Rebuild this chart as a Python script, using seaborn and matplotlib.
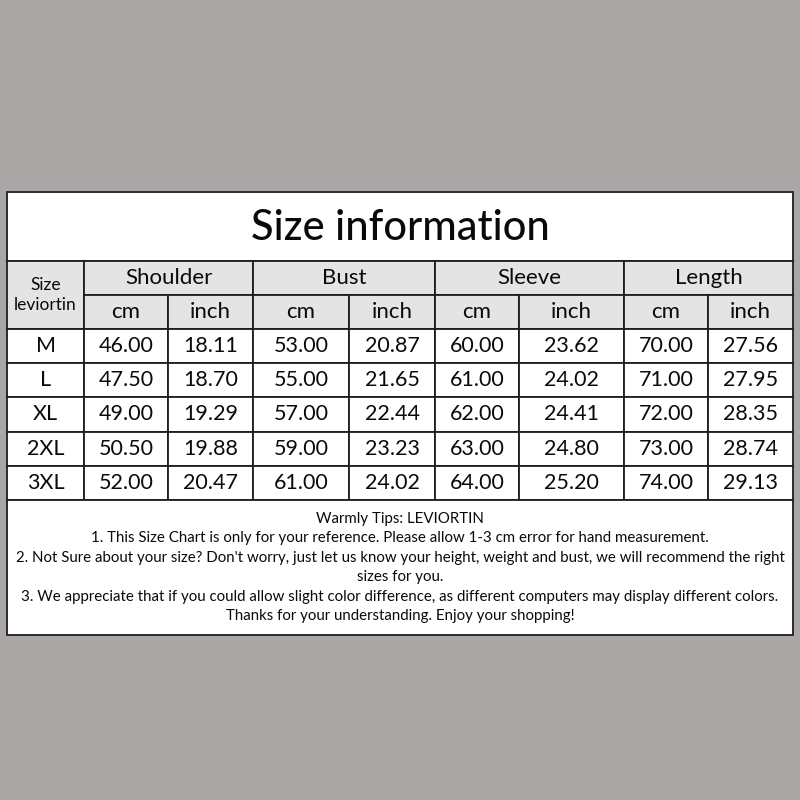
import matplotlib
matplotlib.use('Agg')
import matplotlib.pyplot as plt
import matplotlib.patches as patches
import numpy as np
import pandas as pd
import seaborn as sns

SIZES = ['M', 'L', 'XL', '2XL', '3XL']
PARTS = ['Shoulder', 'Bust', 'Sleeve', 'Length']
UNITS = ['cm', 'inch']
shoulder_cm = [46.00, 47.50, 49.00, 50.50, 52.00]
shoulder_inch = [18.11, 18.70, 19.29, 19.88, 20.47]
bust_cm = [53.00, 55.00, 57.00, 59.00, 61.00]
bust_inch = [20.87, 21.65, 22.44, 23.23, 24.02]
sleeve_cm = [60.00, 61.00, 62.00, 63.00, 64.00]
sleeve_inch = [23.62, 24.02, 24.41, 24.80, 25.20]
length_cm = [70.00, 71.00, 72.00, 73.00, 74.00]
length_inch = [27.56, 27.95, 28.35, 28.74, 29.13]
TITLE = 'Size information'
TIPS = [
    'Warmly Tips: LEVIORTIN',
    '1. This Size Chart is only for your reference. Please allow 1-3 cm error for hand measurement.',
    "2. Not Sure about your size? Don't worry, just let us know your height, weight and bust, we will recommend the right",
    'sizes for you.',
    '3. We appreciate that if you could allow slight color difference, as different computers may display different colors.',
    'Thanks for your understanding. Enjoy your shopping!',
]

df = pd.DataFrame(
    np.column_stack([shoulder_cm, shoulder_inch, bust_cm, bust_inch,
                     sleeve_cm, sleeve_inch, length_cm, length_inch]),
    index=SIZES,
    columns=pd.MultiIndex.from_product([PARTS, UNITS]))

sns.set_theme(style='white')
plt.rcParams['font.family'] = ['Lato', 'DejaVu Sans']

# layout in pixels
col_x = [7, 84, 168, 253, 349, 435, 519, 624, 708, 793]
top, title_bot, h1_bot, h2_bot = 192, 261, 295, 329
row_h = 34.2
body_bot = h2_bot + row_h * len(SIZES)
foot_bot = 635
line_c = '#1e1e1e'
head_c = '#e4e4e4'
ink = '#0a0a0a'

fig = plt.figure(figsize=(8, 8), dpi=100)
fig.patch.set_facecolor('#aaa6a6')
ax = fig.add_axes([0, 0, 1, 1])
ax.set_xlim(0, 800)
ax.set_ylim(800, 0)
ax.axis('off')

def cell(x0, y0, x1, y1, fc):
    ax.add_patch(patches.Rectangle((x0, y0), x1 - x0, y1 - y0, facecolor=fc,
                                   edgecolor=line_c, linewidth=1.3))

# title
cell(col_x[0], top, col_x[-1], title_bot, 'white')
ax.text(400, (top + title_bot) / 2 + 1, TITLE, ha='center', va='center',
        fontsize=30, color=ink, fontweight='medium')

# header
cell(col_x[0], title_bot, col_x[1], h2_bot, head_c)
ax.text((col_x[0] + col_x[1]) / 2, (title_bot + h2_bot) / 2, 'Size\nleviortin',
        ha='center', va='center', fontsize=12.5, linespacing=1.35, color=ink)
for i, part in enumerate(PARTS):
    x0, x1 = col_x[1 + 2 * i], col_x[3 + 2 * i]
    cell(x0, title_bot, x1, h1_bot, head_c)
    ax.text((x0 + x1) / 2, (title_bot + h1_bot) / 2, part, ha='center',
            va='center', fontsize=16, color=ink)
    for j, unit in enumerate(UNITS):
        a, b = col_x[1 + 2 * i + j], col_x[2 + 2 * i + j]
        cell(a, h1_bot, b, h2_bot, head_c)
        ax.text((a + b) / 2, (h1_bot + h2_bot) / 2, unit, ha='center',
                va='center', fontsize=16, color=ink)

# body
for r, size in enumerate(SIZES):
    y0 = h2_bot + r * row_h
    y1 = y0 + row_h
    cell(col_x[0], y0, col_x[1], y1, 'white')
    ax.text((col_x[0] + col_x[1]) / 2, (y0 + y1) / 2, size, ha='center',
            va='center', fontsize=15.5, color=ink)
    for c in range(df.shape[1]):
        a, b = col_x[1 + c], col_x[2 + c]
        cell(a, y0, b, y1, 'white')
        ax.text((a + b) / 2, (y0 + y1) / 2, f'{df.iloc[r, c]:.2f}', ha='center',
                va='center', fontsize=15.5, color=ink)

# footer tips
cell(col_x[0], body_bot, col_x[-1], foot_bot, 'white')
for k, line in enumerate(TIPS):
    ax.text(400, 519 + k * 19.4, line, ha='center', va='center', fontsize=10.8,
            color=ink)

fig.savefig('out.png', dpi=100, facecolor=fig.get_facecolor())
